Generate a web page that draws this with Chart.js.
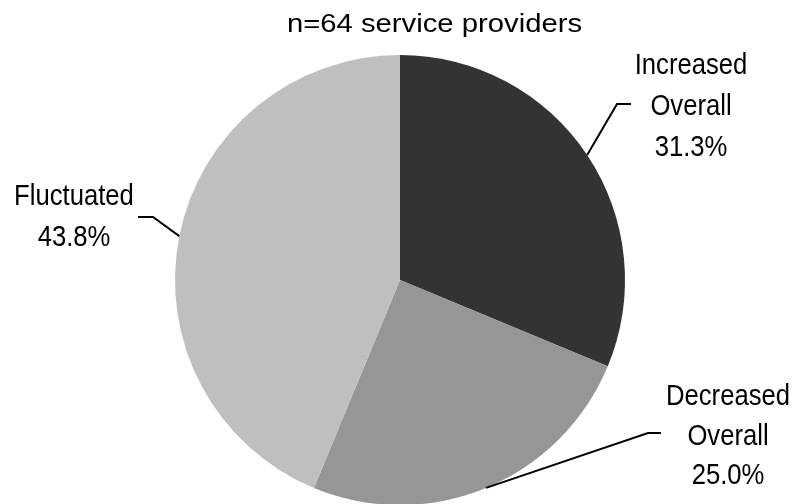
<!DOCTYPE html>
<html>
<head>
<meta charset="utf-8">
<script src="https://cdn.jsdelivr.net/npm/chart.js@4"></script>
<style>
  html, body { margin: 0; padding: 0; background: #fff; overflow: hidden; }
  #wrap { width: 795px; height: 510px; }
</style>
</head>
<body>
<div id="wrap"><canvas id="pieChart" width="795" height="510"></canvas></div>
<script>
// Survey result: how provider numbers changed
const titleText = 'n=64 service providers';
const categories = [['Increased', 'Overall'], ['Decreased', 'Overall'], ['Fluctuated']];
const shares = [31.3, 25.0, 43.8];
const sliceColors = ['#333333', '#969696', '#bfbfbf'];

// where each label sits and how its leader line bends (canvas px)
const calloutLayout = [
    { elbow: [617, 104], end: [631, 104], textX: 691, baselines: [74, 115, 156] },
    { elbow: [648, 433], end: [661, 433], textX: 728, baselines: [405, 445, 484] },
    { elbow: [153, 217], end: [138, 217], textX: 74, baselines: [205, 246] }
];

function stretchedText(ctx, text, x, y, size, sx) {
    ctx.save();
    ctx.translate(x, y);
    ctx.scale(sx, 1);
    ctx.font = size + 'px "Liberation Sans", Arial, sans-serif';
    ctx.textAlign = 'center';
    ctx.textBaseline = 'alphabetic';
    ctx.fillStyle = '#000';
    ctx.fillText(text, 0, 0);
    ctx.restore();
}

const callouts = {
    id: 'callouts',
    afterDraw(chart) {
        const ctx = chart.ctx;
        stretchedText(ctx, titleText, 434.5, 32, 25, 1.17);

        const arcs = chart.getDatasetMeta(0).data;
        arcs.forEach((arc, i) => {
            const p = arc.getProps(['x', 'y', 'startAngle', 'endAngle', 'outerRadius']);
            const mid = (p.startAngle + p.endAngle) / 2;
            const sx = p.x + Math.cos(mid) * p.outerRadius;
            const sy = p.y + Math.sin(mid) * p.outerRadius;
            const lay = calloutLayout[i];

            ctx.save();
            ctx.strokeStyle = '#000';
            ctx.lineWidth = 2;
            ctx.beginPath();
            ctx.moveTo(sx, sy);
            ctx.lineTo(lay.elbow[0], lay.elbow[1]);
            ctx.lineTo(lay.end[0], lay.end[1]);
            ctx.stroke();
            ctx.restore();

            const lines = categories[i].concat([shares[i].toFixed(1) + '%']);
            lines.forEach((t, k) => stretchedText(ctx, t, lay.textX, lay.baselines[k], 30, 0.855));
        });
    }
};

new Chart(document.getElementById('pieChart').getContext('2d'), {
    type: 'pie',
    data: {
        labels: categories.map(c => c.join(' ')),
        datasets: [{
            data: shares,
            backgroundColor: sliceColors,
            borderWidth: 0
        }]
    },
    options: {
        responsive: false,
        animation: false,
        events: [],
        layout: { padding: { left: 175, right: 170, top: 55, bottom: 5 } },
        plugins: {
            legend: { display: false },
            tooltip: { enabled: false },
            title: { display: false }
        }
    },
    plugins: [callouts]
});
</script>
</body>
</html>
